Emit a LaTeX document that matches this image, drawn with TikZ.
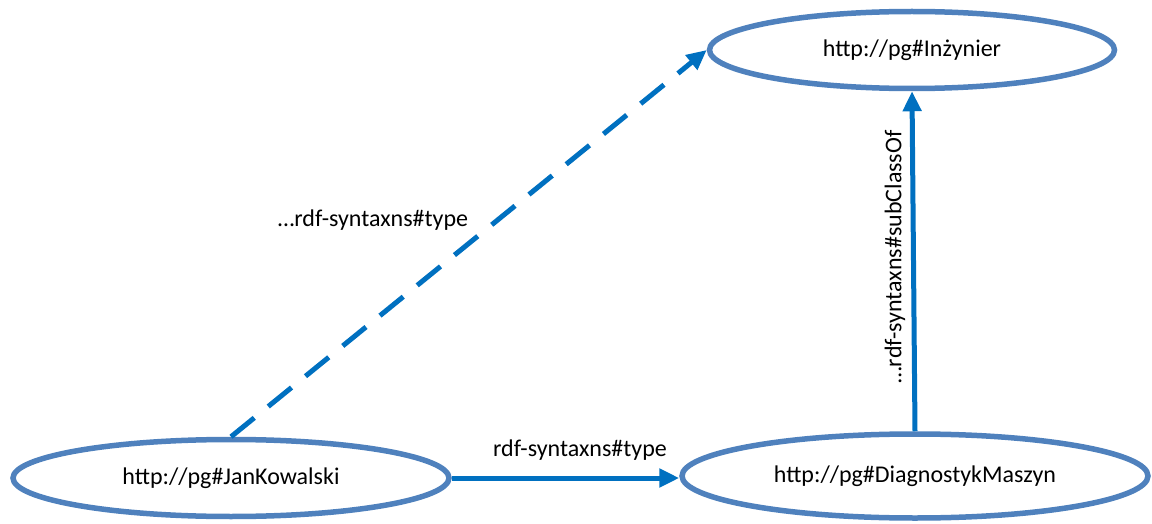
\documentclass[tikz,border=0pt]{standalone}
\usepackage{fontspec}
\setmainfont{Carlito}
\usetikzlibrary{shapes.geometric,arrows.meta}
\definecolor{ringblue}{HTML}{4F81BD}
\definecolor{linkblue}{HTML}{0070C0}
\tikzset{
  concept/.style={ellipse, draw=ringblue, line width=5.5pt, inner sep=0pt,
    font=\fontsize{24}{28}\selectfont, text=black},
  link/.style={draw=linkblue, line width=5pt,
    -{Triangle[length=20pt,width=18pt]}},
  linklabel/.style={font=\fontsize{24}{28}\selectfont, text=black, inner sep=0pt}
}
\begin{document}
\begin{tikzpicture}[x=1pt,y=-1pt]
  \useasboundingbox (0,0) rectangle (1152,524);
  \node[concept, minimum width=436pt, minimum height=77pt] (jan) at (231,478) {http://pg\#JanKowalski};
  \node[concept, minimum width=466pt, minimum height=84pt] (diag) at (915,476) {http://pg\#DiagnostykMaszyn};
  \node[concept, minimum width=405pt, minimum height=77pt] (inz) at (912,50) {http://pg\#Inżynier};

  \draw[link, dash pattern=on 30pt off 18pt] (jan.north) -- (inz.west);
  \draw[link] (jan.east) -- (jan.east -| diag.west);
  \draw[link] (diag.north) -- (inz.south);

  \node[linklabel] (lbltype) at (373,220) {…rdf-syntaxns\#type};
  \node[linklabel] (lbldirect) at (580,450) {rdf-syntaxns\#type};
  \node[linklabel, rotate=90] (lblsub) at (895,257) {…rdf-syntaxns\#subClassOf};
\end{tikzpicture}
\end{document}
